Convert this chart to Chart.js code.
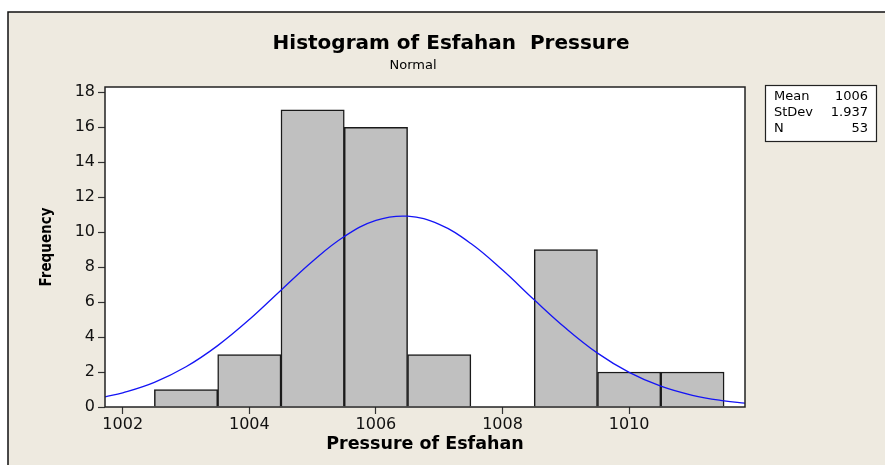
<!DOCTYPE html>
<html>
<head>
<meta charset="utf-8">
<script src="https://cdn.jsdelivr.net/npm/chart.js@4/dist/chart.umd.min.js"></script>
<style>
  html, body { margin: 0; padding: 0; background: #fff; }
  #wrap { width: 885px; height: 465px; position: relative; }
</style>
</head>
<body>
<div id="wrap"><canvas id="hist" width="885" height="465"></canvas></div>
<script>
// histogram bins (bin centres, width 1)
const binCenters = [1003, 1004, 1005, 1006, 1007, 1008, 1009, 1010, 1011];
const frequencies = [1, 3, 17, 16, 3, 0, 9, 2, 2];

// fitted normal curve
const curveX = [1001.72, 1002, 1002.5, 1003, 1003.5, 1004, 1004.5, 1005, 1005.5, 1006, 1006.5,
  1007, 1007.5, 1008, 1008.5, 1009, 1009.5, 1010, 1010.5, 1011, 1011.5, 1011.83];
const curveY = [0.58, 0.81, 1.41, 2.3, 3.51, 5.0, 6.68, 8.34, 9.75, 10.67, 10.91,
  10.44, 9.35, 7.83, 6.13, 4.5, 3.08, 1.98, 1.19, 0.67, 0.35, 0.22];

const xTicks = [1002, 1004, 1006, 1008, 1010];
const yTicks = [0, 2, 4, 6, 8, 10, 12, 14, 16, 18];

const statLabels = ["Mean", "StDev", "N"];
const statValues = ["1006", "1.937", "53"];

const BG = "#EEEAE0";

// frame, titles and the stats box
const decorations = {
  id: "decorations",
  beforeDraw(chart) {
    const c = chart.ctx;
    c.save();
    c.fillStyle = "#fff";
    c.fillRect(0, 0, chart.width, chart.height);
    c.fillStyle = BG;
    c.fillRect(8, 12, chart.width, chart.height);
    c.strokeStyle = "#111";
    c.lineWidth = 1.5;
    c.beginPath();
    c.moveTo(8, chart.height);
    c.lineTo(8, 12);
    c.lineTo(chart.width, 12);
    c.stroke();
    const a = chart.chartArea;
    c.fillStyle = "#fff";
    c.fillRect(a.left, a.top, a.right - a.left, a.bottom - a.top);
    c.restore();
  },
  afterDraw(chart) {
    const c = chart.ctx;
    const a = chart.chartArea;
    c.save();
    c.strokeStyle = "#222";
    c.lineWidth = 1.5;
    c.strokeRect(a.left, a.top, a.right - a.left, a.bottom - a.top);

    c.fillStyle = "#000";
    c.textAlign = "center";
    c.textBaseline = "middle";
    c.font = "bold 20px 'DejaVu Sans', Verdana, sans-serif";
    c.fillText("Histogram of Esfahan  Pressure", 451, 44);
    c.font = "13px 'DejaVu Sans', Verdana, sans-serif";
    c.fillText("Normal", 413, 66);

    // stats box
    c.fillStyle = "#fff";
    c.fillRect(765, 85, 111, 56);
    c.strokeStyle = "#222";
    c.lineWidth = 1.2;
    c.strokeRect(765.5, 85.5, 111, 56);
    c.fillStyle = "#000";
    c.font = "13px 'DejaVu Sans', Verdana, sans-serif";
    for (let i = 0; i < statLabels.length; i++) {
      const y = 97 + i * 16;
      c.textAlign = "left";
      c.fillText(statLabels[i], 774, y);
      c.textAlign = "right";
      c.fillText(statValues[i], 868, y);
    }
    c.restore();
  }
};

new Chart(document.getElementById("hist"), {
  data: {
    datasets: [
      {
        type: "line",
        data: curveX.map((x, i) => ({ x: x, y: curveY[i] })),
        borderColor: "#1414F5",
        borderWidth: 1.3,
        pointRadius: 0,
        tension: 0.4,
        fill: false,
        order: 0
      },
      {
        type: "bar",
        data: binCenters.map((x, i) => ({ x: x, y: frequencies[i] })),
        backgroundColor: "#C0C0C0",
        borderColor: "#1a1a1a",
        borderWidth: 1.5,
        barPercentage: 1,
        categoryPercentage: 1,
        order: 1
      }
    ]
  },
  options: {
    responsive: false,
    animation: false,
    layout: { padding: { left: 38, right: 140, top: 87, bottom: 10 } },
    plugins: {
      legend: { display: false },
      tooltip: { enabled: false }
    },
    scales: {
      x: {
        type: "linear",
        min: 1001.72,
        max: 1011.83,
        offset: false,
        afterFit: s => { s.height = 48; },
        afterBuildTicks: s => { s.ticks = xTicks.map(v => ({ value: v })); },
        ticks: {
          callback: v => String(v),
          color: "#111",
          font: { family: "'DejaVu Sans', Verdana, sans-serif", size: 16 },
          padding: 1,
          maxRotation: 0,
          autoSkip: false
        },
        grid: { drawOnChartArea: false, offset: false, tickLength: 7, color: "#333", tickWidth: 1.2 },
        border: { display: false },
        title: {
          display: true,
          text: "Pressure of Esfahan",
          color: "#000",
          font: { family: "'DejaVu Sans', Verdana, sans-serif", size: 17.5, weight: "bold" },
          padding: { top: 4, bottom: 0 }
        }
      },
      y: {
        min: 0,
        max: 18.3,
        afterFit: s => { s.width = 67; },
        afterBuildTicks: s => { s.ticks = yTicks.map(v => ({ value: v })); },
        ticks: {
          color: "#111",
          font: { family: "'DejaVu Sans', Verdana, sans-serif", size: 16 },
          padding: 3
        },
        grid: { drawOnChartArea: false, tickLength: 7, color: "#333", tickWidth: 1.2 },
        border: { display: false },
        title: {
          display: true,
          text: "Frequency",
          color: "#000",
          font: { family: "'DejaVu Sans Condensed', 'DejaVu Sans', sans-serif", size: 15, weight: "bold" },
          padding: { top: 0, bottom: 0 }
        }
      }
    }
  },
  plugins: [decorations]
});
</script>
</body>
</html>
